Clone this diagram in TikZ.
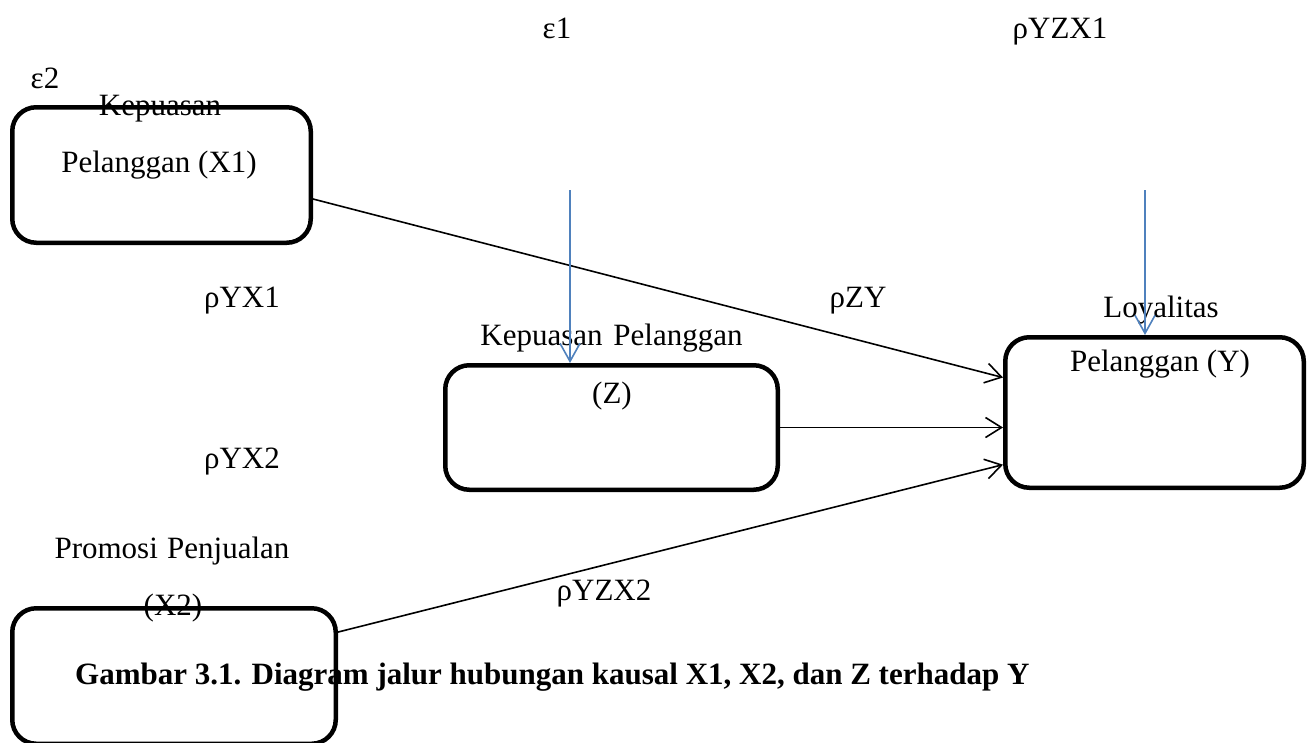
\documentclass[tikz,border=0pt]{standalone}
\usepackage{fontspec}
\setmainfont{Liberation Serif}
\usetikzlibrary{arrows.meta}
\definecolor{wordblue}{HTML}{4F81BD}
\tikzset{
  vbox/.style={draw, line width=4.5pt, rounded corners=24pt, inner sep=0pt, outer sep=2.25pt},
  lbl/.style={anchor=base, inner sep=0pt, font=\fontsize{31}{37}\selectfont},
  arr/.style={line width=1.6pt, -{Straight Barb[length=16pt, width=20pt, line width=1.6pt]}},
  bluearr/.style={wordblue, line width=1.6pt, -{Straight Barb[length=18pt, width=20pt, line width=1.6pt]}}
}
\begin{document}
\begin{tikzpicture}[x=1pt, y=-1pt]
\useasboundingbox (0,0) rectangle (1311,742);
\fill[white] (0,0) rectangle (1311,742);
\clip (0,0) rectangle (1311,742);

% boxes
\node[vbox, minimum width=298.5pt, minimum height=135.5pt] (x1) at (161.5,175) {};
\node[vbox, minimum width=332.5pt, minimum height=124.5pt] (z) at (611.5,427.5) {};
\node[vbox, minimum width=298.5pt, minimum height=150.5pt] (y) at (1154.5,412.5) {};
\node[vbox, minimum width=323.5pt, minimum height=135.5pt] (x2) at (174,676) {};

% labels
\node[lbl] (e1) at (557,38) {ε1};
\node[lbl] (pyzx1) at (1060,38) {ρYZX1};
\node[lbl] (e2) at (45,88) {ε2};
\node[lbl] (x1a) at (160,115) {Kepuasan};
\node[lbl] (x1b) at (159,172) {Pelanggan (X1)};
\node[lbl] (pyx1) at (242,307) {ρYX1};
\node[lbl] (pzy) at (858,307) {ρZY};
\node[lbl] (za) at (611.5,345) {Kepuasan\hspace{0.35em}Pelanggan};
\node[lbl] (zb) at (612,403) {(Z)};
\node[lbl] (ya) at (1161,317) {Loyalitas};
\node[lbl] (yb) at (1160,371) {Pelanggan (Y)};
\node[lbl] (pyx2) at (242,468) {ρYX2};
\node[lbl] (x2a) at (172,558) {Promosi\hspace{0.3em}Penjualan};
\node[lbl] (x2b) at (173,615) {(X2)};
\node[lbl] (pyzx2) at (604,600) {ρYZX2};
\node[lbl, anchor=base west, font=\fontsize{31}{37}\selectfont\bfseries] (cap) at (75,684) {Gambar 3.1. Diagram jalur hubungan kausal X1, X2, dan Z terhadap Y};

% connectors
\draw[arr] (x1.-9) -- (y.167.2);
\draw[arr] (z.east) -- (z.east -| y.west);
\draw[arr] (x2.15) -- (y.-161.6);

\coordinate (s1) at (570,190);
\coordinate (s2) at (1145,190);
\draw[bluearr] (s1) -- (s1 |- z.north);
\draw[bluearr] (s2) -- (s2 |- y.north);
\end{tikzpicture}
\end{document}
